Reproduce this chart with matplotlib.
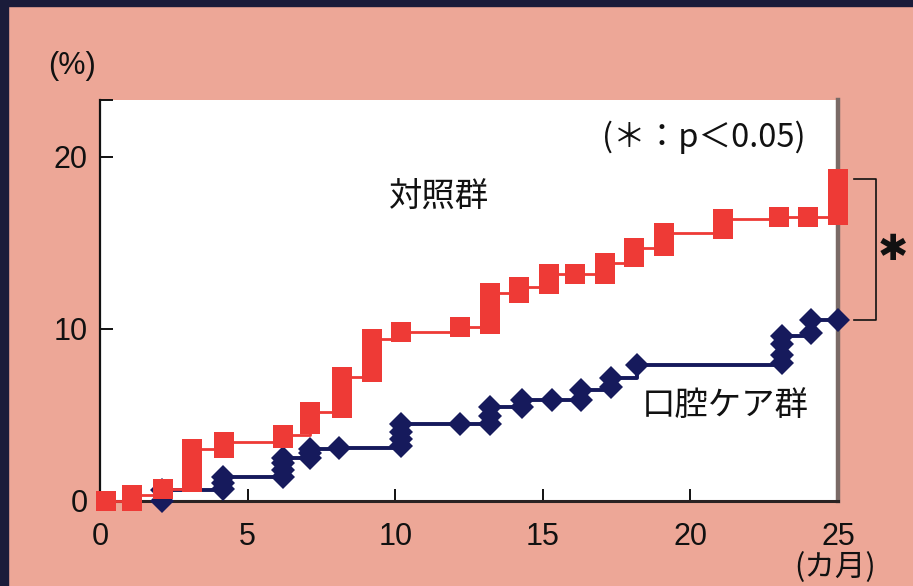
import matplotlib
matplotlib.use("Agg")
import matplotlib.pyplot as plt
from matplotlib.patches import Rectangle

# ---- data ----
ctrl_months = [0.2, 1.1, 2.15, 3.1, 4.2, 6.2, 7.1, 8.2, 9.2, 10.2, 12.2, 13.2,
               14.2, 15.2, 16.1, 17.1, 18.1, 19.1, 21.1, 23.0, 24.0, 25.0]
ctrl_levels = [[0.0], [0.0, 0.35], [0.7], [1.1, 1.6, 2.1, 2.5, 3.0], [3.1, 3.45],
               [3.65, 3.85], [4.45, 4.9, 5.2], [5.4, 5.9, 6.4, 6.9, 7.2],
               [7.5, 8.0, 8.5, 9.0, 9.4], [9.8], [10.1],
               [10.3, 10.8, 11.3, 11.7, 12.1], [12.1, 12.45], [12.6, 13.2],
               [13.2], [13.2, 13.8], [14.2, 14.7], [14.8, 15.2, 15.55],
               [15.8, 16.4], [16.5], [16.5], [16.6, 17.2, 17.8, 18.3, 18.7]]

care_months = [2.1, 4.15, 6.2, 7.1, 8.1, 10.2, 12.2, 13.2, 14.3, 15.3, 16.3,
               17.3, 18.2, 23.1, 24.1, 25.0]
care_levels = [[0.0, 0.65], [0.7, 1.05, 1.4], [1.4, 1.8, 2.2, 2.5],
               [2.5, 2.8, 3.05], [3.1], [3.2, 3.6, 4.0, 4.5], [4.5],
               [4.5, 4.95, 5.45], [5.45, 5.85], [5.85], [5.85, 6.45],
               [6.6, 7.15], [7.9], [8.0, 8.5, 9.1, 9.6], [9.75, 10.5], [10.5]]

x_ticks = [0, 5, 10, 15, 20, 25]
y_ticks = [0, 10, 20]
label_ctrl = "対照群"
label_care = "口腔ケア群"
note_text = "(＊：p＜0.05)"
x_unit = "(カ月)"
y_unit = "(%)"

W, H = 913, 586
BG = "#EDA797"
RED = "#EE3A36"
NAVY = "#161A5C"
CJK = ["Noto Sans CJK JP", "DejaVu Sans"]
LAT = ["Liberation Sans", "DejaVu Sans"]


def flat(months, levels):
    xs, ys = [], []
    for m, lv in zip(months, levels):
        for v in lv:
            xs.append(m)
            ys.append(v)
    return xs, ys


def px(x, y):
    return x / W, 1 - y / H


fig = plt.figure(figsize=(W / 100, H / 100), dpi=100, facecolor=BG)
# dark border bands (top and left)
fig.patches.append(Rectangle((0, 1 - 6 / H), 1, 6 / H, transform=fig.transFigure,
                             color="#1a1c3a", zorder=0))
fig.patches.append(Rectangle((0, 0), 8 / W, 1, transform=fig.transFigure,
                             color="#1a1c3a", zorder=0))

left, bottom = px(100, 501)
right, top = px(838, 100)
ax = fig.add_axes([left, bottom, right - left, top - bottom])
ax.set_facecolor("white")
ax.set_xlim(0, 25)
ax.set_ylim(0, 23.3)

cx, cy = flat(care_months, care_levels)
rx, ry = flat(ctrl_months, ctrl_levels)

ax.plot(cx, cy, drawstyle="steps-post", color=NAVY, lw=2.8, clip_on=False, zorder=3)
ax.plot(cx, cy, ls="none", marker="D", ms=12.0, color=NAVY, mec=NAVY, mew=0,
        clip_on=False, zorder=4)
ax.plot(rx, ry, drawstyle="steps-post", color=RED, lw=2.0, clip_on=False, zorder=5)
ax.plot(rx, ry, ls="none", marker="s", ms=14.2, color=RED, mec=RED, mew=0,
        clip_on=False, zorder=6)

# spines
ax.spines["top"].set_visible(False)
ax.spines["left"].set_linewidth(1.6)
ax.spines["left"].set_color("#111111")
ax.spines["bottom"].set_linewidth(2.2)
ax.spines["bottom"].set_color("#2a2222")
ax.spines["right"].set_linewidth(3.2)
ax.spines["right"].set_color("#7a6a66")

ax.set_xticks(x_ticks)
ax.set_xticklabels([str(t) for t in x_ticks])
ax.set_yticks(y_ticks + [23.3])
ax.set_yticklabels([str(t) for t in y_ticks] + [""])
ax.tick_params(axis="x", direction="in", length=9, width=1.4, pad=15,
               labelsize=22, colors="#111111")
ax.tick_params(axis="y", direction="in", length=9, width=1.4, pad=9,
               labelsize=22, colors="#111111")
for lab in ax.get_xticklabels() + ax.get_yticklabels():
    lab.set_family(LAT)

# significance bracket from data end values
top_v = max(ctrl_levels[-1])
bot_v = max(care_levels[-1])
bx0, bx1 = 25.55, 26.3
ax.plot([bx0, bx1, bx1, bx0], [top_v, top_v, bot_v, bot_v], color="#111111",
        lw=1.2, clip_on=False, zorder=2)
ax.text(26.85, (top_v + bot_v) / 2, "✱", family=["DejaVu Sans"], fontsize=26,
        ha="center", va="center", color="#111111", clip_on=False)

# texts
fig.text(*px(72, 66), y_unit, family=LAT, fontsize=22, ha="center", va="center",
         color="#111111")
fig.text(*px(704, 137), note_text, family=CJK, fontsize=23.5, ha="center", va="center",
         color="#111111")
fig.text(*px(439, 196), label_ctrl, family=CJK, fontsize=24, ha="center", va="center",
         color="#111111")
fig.text(*px(725, 405), label_care, family=CJK, fontsize=24, ha="center", va="center",
         color="#111111")
fig.text(*px(835, 568), x_unit, family=CJK, fontsize=22, ha="center", va="center",
         color="#111111")

fig.savefig("out.png", dpi=100, facecolor=BG)
